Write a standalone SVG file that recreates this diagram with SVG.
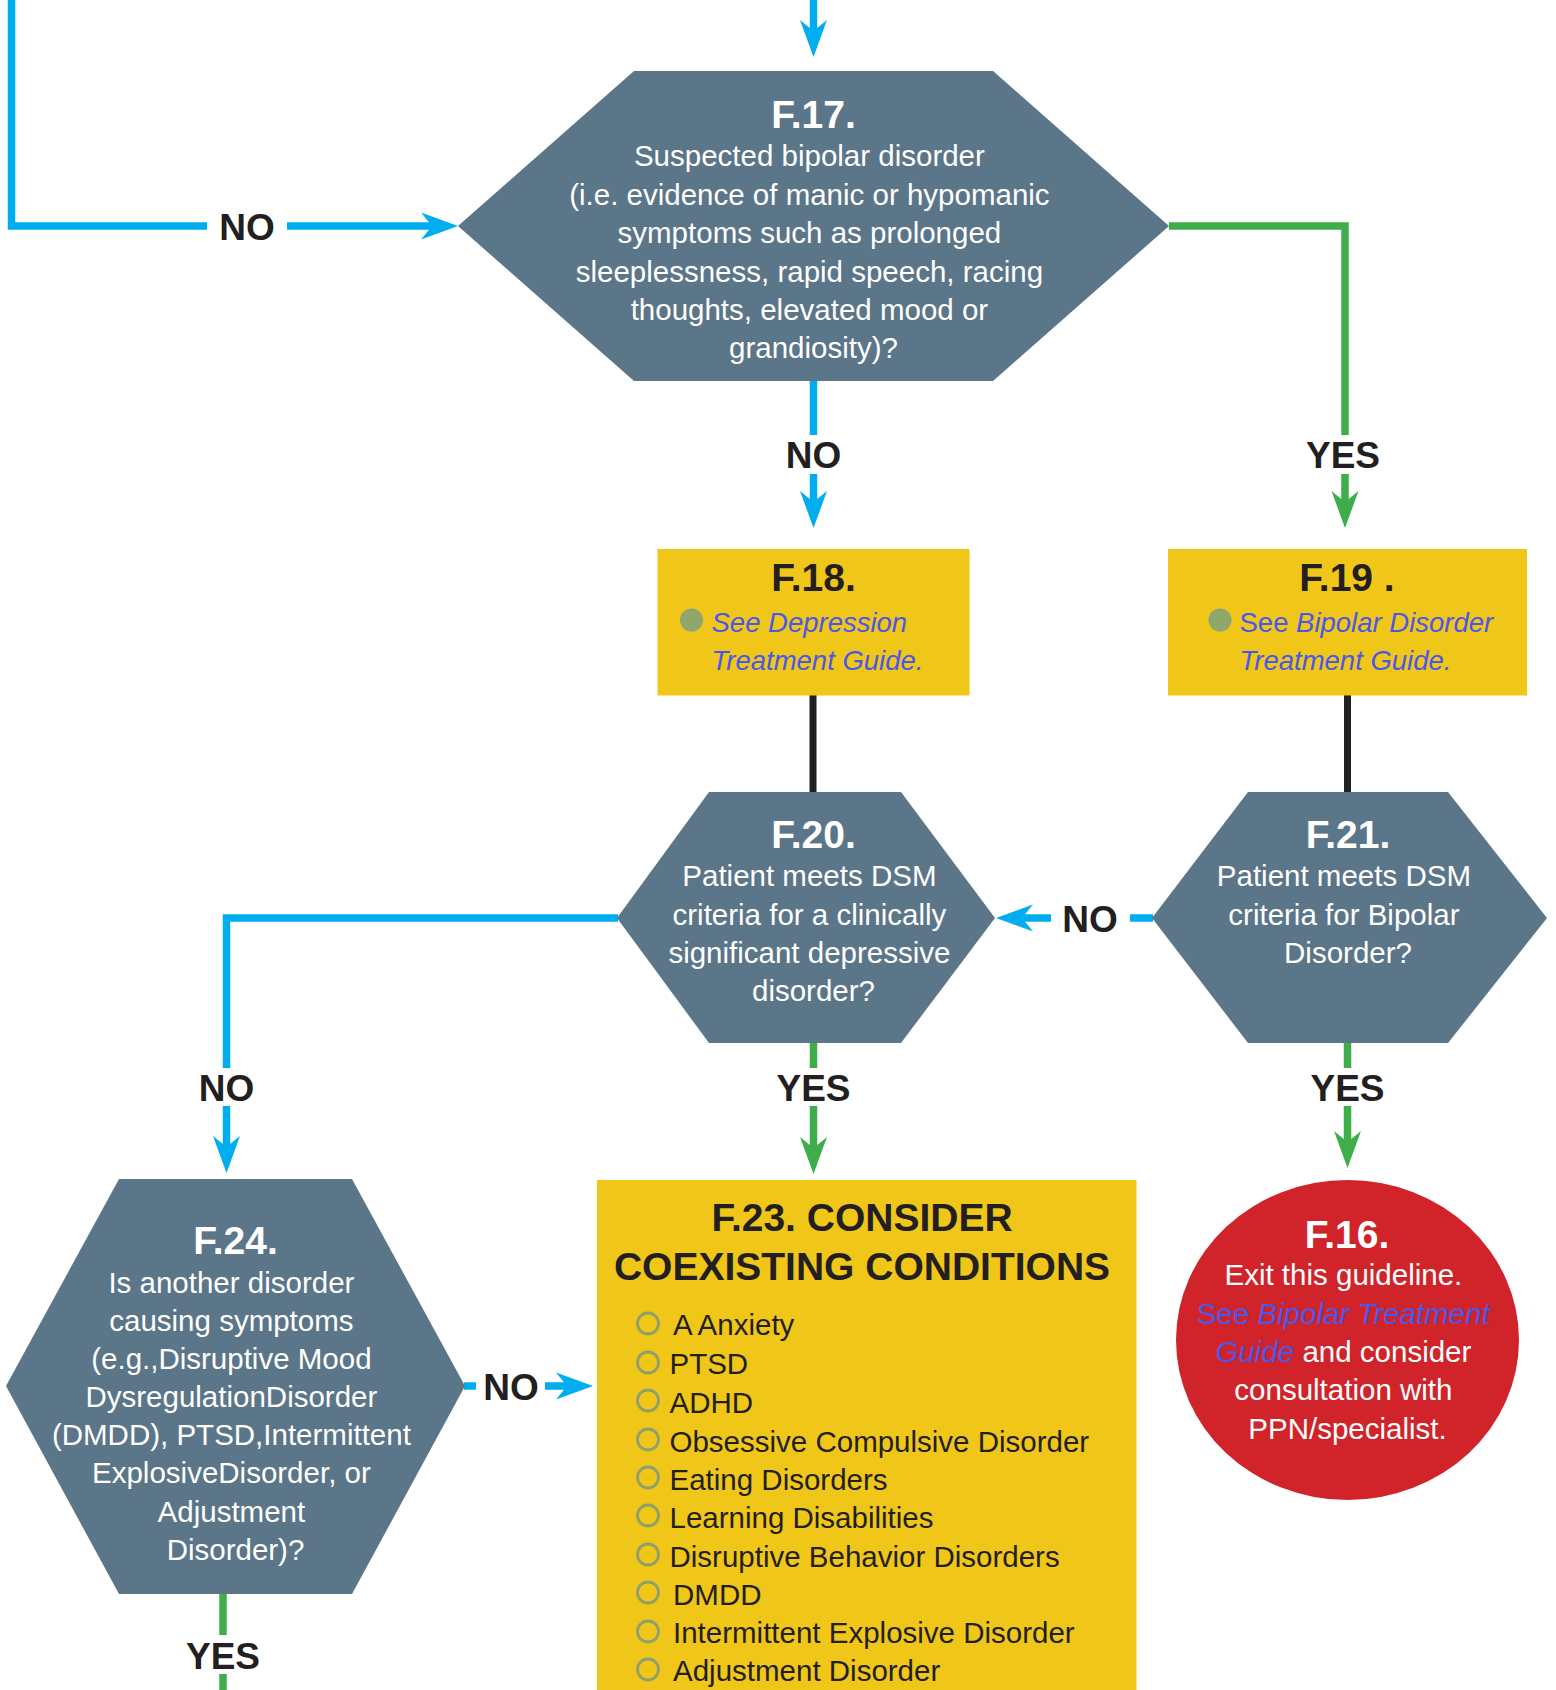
<svg xmlns="http://www.w3.org/2000/svg" width="1556" height="1690" viewBox="0 0 1556 1690">
  <style>
    .hex { fill: #5B7589; }
    .box { fill: #F0C619; }
    .exit { fill: #D1232A; }
    .ln { fill: none; stroke-width: 7.5; stroke-linejoin: miter; }
    .blue { stroke: #00AEEF; }
    .green { stroke: #3DAE49; }
    .dark { stroke: #231F20; stroke-width: 7; fill: none; }
    text { font-family: "Liberation Sans", Arial, sans-serif; }
    .ttl-w { font-weight: bold; font-size: 39px; fill: #FFFFFF; text-anchor: middle; }
    .ttl-k { font-weight: bold; font-size: 39px; fill: #231F20; text-anchor: middle; }
    .body-w { font-size: 29.5px; fill: #FFFFFF; text-anchor: middle; }
    .lbl { font-weight: bold; font-size: 37px; fill: #231F20; text-anchor: middle; }
    .link { fill: #4A58E8; }
    .it { font-style: italic; }
    .guide { font-size: 27.5px; fill: #4A58E8; }
    .item { font-size: 29.5px; fill: #231F20; }
    .ring { fill: none; stroke: #8F9F6C; stroke-width: 2.8; }
    .dot { fill: #8FA66C; }
  </style>
  <defs>
    <marker id="arrow-blue" markerUnits="userSpaceOnUse" viewBox="-12 -15 40 30" refX="4" refY="0" markerWidth="40" markerHeight="30" orient="auto">
      <path d="M26,0 L-11,-13.5 L0,0 L-11,13.5 Z" fill="#00AEEF"/>
    </marker>
    <marker id="arrow-green" markerUnits="userSpaceOnUse" viewBox="-12 -15 40 30" refX="4" refY="0" markerWidth="40" markerHeight="30" orient="auto">
      <path d="M26,0 L-11,-13.5 L0,0 L-11,13.5 Z" fill="#3DAE49"/>
    </marker>
  </defs>

  <rect width="1556" height="1690" fill="#FFFFFF"/>

  <g id="connectors">
    <!-- incoming flow from above -->
    <path class="ln blue" d="M813.5,0 V35" marker-end="url(#arrow-blue)"/>
    <!-- left loop into F.17 -->
    <path class="ln blue" d="M11.5,0 V226 H207 M287,226 H436" marker-end="url(#arrow-blue)"/>
    <text class="lbl" x="247" y="240">NO</text>
    <!-- F.17 NO -> F.18 -->
    <path class="ln blue" d="M813.5,381 V435 M813.5,474 V506" marker-end="url(#arrow-blue)"/>
    <text class="lbl" x="813.5" y="468">NO</text>
    <!-- F.17 YES -> F.19 -->
    <path class="ln green" d="M1169,226 H1345 V435 M1345,474 V506" marker-end="url(#arrow-green)"/>
    <text class="lbl" x="1343" y="468">YES</text>
    <!-- F.18 -> F.20, F.19 -> F.21 -->
    <path class="dark" d="M813,695 V793"/>
    <path class="dark" d="M1347.5,695 V793"/>
    <!-- F.21 NO -> F.20 -->
    <path class="ln blue" d="M1153,918 H1130 M1051,918 H1018" marker-end="url(#arrow-blue)"/>
    <text class="lbl" x="1090" y="932">NO</text>
    <!-- F.20 NO -> F.24 -->
    <path class="ln blue" d="M618,918 H226.5 V1068 M226.5,1106 V1151" marker-end="url(#arrow-blue)"/>
    <text class="lbl" x="226.5" y="1101">NO</text>
    <!-- F.20 YES -> F.23 -->
    <path class="ln green" d="M813.5,1043 V1068 M813.5,1106 V1152" marker-end="url(#arrow-green)"/>
    <text class="lbl" x="813.5" y="1101">YES</text>
    <!-- F.21 YES -> F.16 -->
    <path class="ln green" d="M1347.5,1043 V1068 M1347.5,1106 V1146" marker-end="url(#arrow-green)"/>
    <text class="lbl" x="1347.5" y="1101">YES</text>
    <!-- F.24 NO -> F.23 -->
    <path class="ln blue" d="M464,1386 H476 M545,1386 H571" marker-end="url(#arrow-blue)"/>
    <text class="lbl" x="511" y="1400">NO</text>
    <!-- F.24 YES continues below -->
    <path class="ln green" d="M223,1594 V1635 M223,1674 V1690"/>
    <text class="lbl" x="223" y="1669">YES</text>
  </g>

  <g id="node-f17">
    <polygon class="hex" points="634,71 993,71 1169,226 993,381 634,381 458,226"/>
    <text class="ttl-w" x="813.5" y="128">F.17.</text>
    <text class="body-w">
      <tspan x="813.5" y="166">Suspected bipolar disorder</tspan>
      <tspan x="813.5" y="204.5">(i.e. evidence of manic or hypomanic</tspan>
      <tspan x="813.5" y="243">symptoms such as prolonged</tspan>
      <tspan x="813.5" y="281.5">sleeplessness, rapid speech, racing</tspan>
      <tspan x="813.5" y="320">thoughts, elevated mood or</tspan>
      <tspan x="813.5" y="357.5">grandiosity)?</tspan>
    </text>
  </g>

  <g id="node-f18">
    <rect class="box" x="657.5" y="549" width="312" height="146.5"/>
    <text class="ttl-k" x="813.5" y="591">F.18.</text>
    <circle class="dot" cx="691.5" cy="620" r="11.5"/>
    <text class="guide it" x="711.5" y="631.5">See Depression</text>
    <text class="guide it" x="711.5" y="670">Treatment Guide.</text>
  </g>

  <g id="node-f19">
    <rect class="box" x="1168" y="549" width="359" height="146.5"/>
    <text class="ttl-k" x="1347" y="591">F.19 .</text>
    <circle class="dot" cx="1220" cy="620" r="11.5"/>
    <text class="guide" x="1239.5" y="631.5">See <tspan class="it">Bipolar Disorder</tspan></text>
    <text class="guide it" x="1239.5" y="670">Treatment Guide.</text>
  </g>

  <g id="node-f20">
    <polygon class="hex" points="709,792 901,792 995,918 901,1043 709,1043 617,918"/>
    <text class="ttl-w" x="813.5" y="848">F.20.</text>
    <text class="body-w">
      <tspan x="813.5" y="886">Patient meets DSM</tspan>
      <tspan x="813.5" y="924.5">criteria for a clinically</tspan>
      <tspan x="813.5" y="962.5">significant depressive</tspan>
      <tspan x="813.5" y="1000.5">disorder?</tspan>
    </text>
  </g>

  <g id="node-f21">
    <polygon class="hex" points="1248,792 1448,792 1547,918 1448,1043 1248,1043 1152,918"/>
    <text class="ttl-w" x="1348" y="848">F.21.</text>
    <text class="body-w">
      <tspan x="1348" y="886">Patient meets DSM</tspan>
      <tspan x="1348" y="924.5">criteria for Bipolar</tspan>
      <tspan x="1348" y="962.5">Disorder?</tspan>
    </text>
  </g>

  <g id="node-f24">
    <polygon class="hex" points="119,1179 352,1179 465,1386 352,1594 119,1594 6,1386"/>
    <text class="ttl-w" x="235.5" y="1254">F.24.</text>
    <text class="body-w">
      <tspan x="235.5" y="1292.5">Is another disorder</tspan>
      <tspan x="235.5" y="1330.5">causing symptoms</tspan>
      <tspan x="235.5" y="1368.5">(e.g.,Disruptive Mood</tspan>
      <tspan x="235.5" y="1406.5">DysregulationDisorder</tspan>
      <tspan x="235.5" y="1445">(DMDD), PTSD,Intermittent</tspan>
      <tspan x="235.5" y="1483">ExplosiveDisorder, or</tspan>
      <tspan x="235.5" y="1521.5">Adjustment</tspan>
      <tspan x="235.5" y="1560">Disorder)?</tspan>
    </text>
  </g>

  <g id="node-f23">
    <rect class="box" x="597" y="1180" width="539.5" height="510"/>
    <text class="ttl-k" x="862" y="1230.5" font-size="38">F.23. CONSIDER</text>
    <text class="ttl-k" x="862" y="1280" font-size="38">COEXISTING CONDITIONS</text>
    <g id="f23-bullets">
      <circle class="ring" cx="648" cy="1323.5" r="10.5"/>
      <circle class="ring" cx="648" cy="1362.5" r="10.5"/>
      <circle class="ring" cx="648" cy="1400.5" r="10.5"/>
      <circle class="ring" cx="648" cy="1439.5" r="10.5"/>
      <circle class="ring" cx="648" cy="1477.5" r="10.5"/>
      <circle class="ring" cx="648" cy="1515.5" r="10.5"/>
      <circle class="ring" cx="648" cy="1554.5" r="10.5"/>
      <circle class="ring" cx="648" cy="1592.5" r="10.5"/>
      <circle class="ring" cx="648" cy="1631.5" r="10.5"/>
      <circle class="ring" cx="648" cy="1669.5" r="10.5"/>
    </g>
    <text class="item" x="673" y="1335">A Anxiety</text>
    <text class="item" x="669.5" y="1374">PTSD</text>
    <text class="item" x="669.5" y="1412.5">ADHD</text>
    <text class="item" x="669.5" y="1451.5">Obsessive Compulsive Disorder</text>
    <text class="item" x="669.5" y="1489.5">Eating Disorders</text>
    <text class="item" x="669.5" y="1527.5">Learning Disabilities</text>
    <text class="item" x="669.5" y="1566.5">Disruptive Behavior Disorders</text>
    <text class="item" x="673" y="1604.5">DMDD</text>
    <text class="item" x="673" y="1643">Intermittent Explosive Disorder</text>
    <text class="item" x="673" y="1681">Adjustment Disorder</text>
  </g>

  <g id="node-f16">
    <ellipse class="exit" cx="1347.5" cy="1340" rx="171.5" ry="160"/>
    <text class="ttl-w" x="1347" y="1248">F.16.</text>
    <text class="body-w" font-size="29">
      <tspan x="1347.5" y="1285">Exit this guideline.</tspan>
      <tspan x="1347.5" y="1323.5" class="link">See <tspan class="it">Bipolar Treatment</tspan></tspan>
      <tspan x="1347.5" y="1361.5"><tspan class="link it">Guide</tspan> and consider</tspan>
      <tspan x="1347.5" y="1400">consultation with</tspan>
      <tspan x="1347.5" y="1438.5">PPN/specialist.</tspan>
    </text>
  </g>
</svg>
